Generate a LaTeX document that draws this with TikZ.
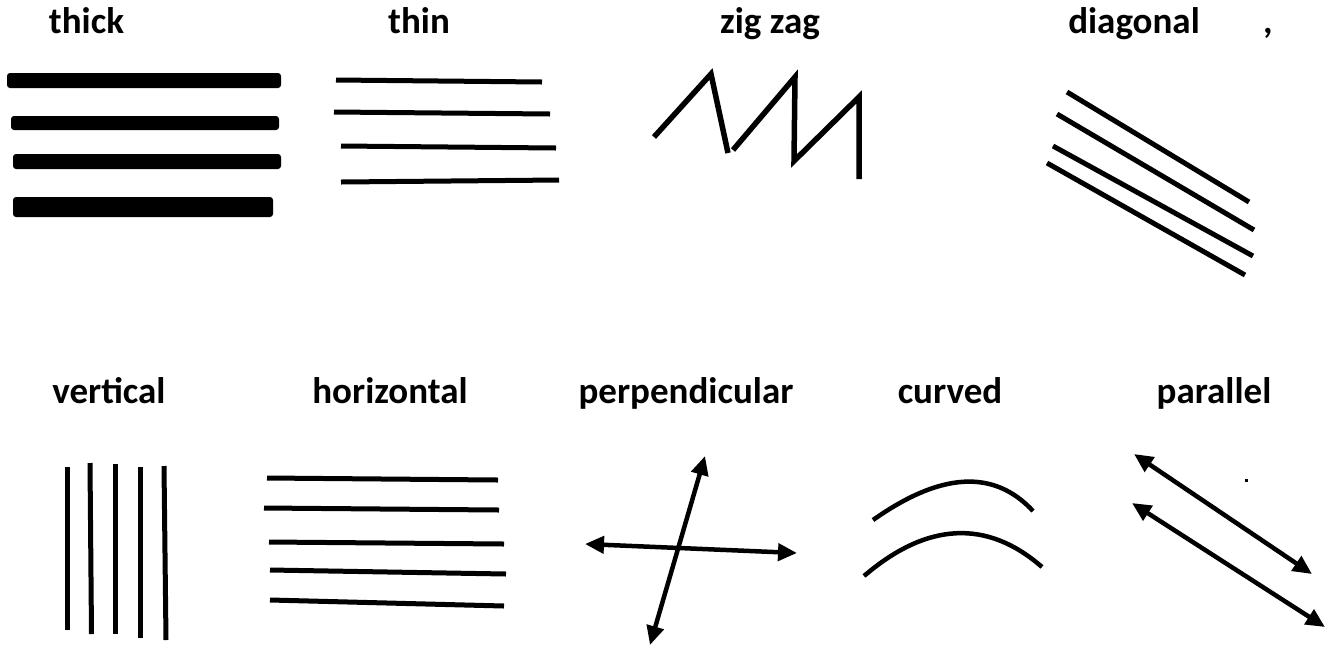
\documentclass[tikz,border=0pt]{standalone}
\usepackage{fontspec}
\setmainfont{Carlito}
\usetikzlibrary{arrows.meta}
\tikzset{
  lbl/.style={anchor=base, inner sep=0pt, font=\fontsize{37}{44}\selectfont\bfseries},
  bar/.style={fill=black, rounded corners=3pt},
  ln/.style={line width=5pt, line cap=butt},
  zz/.style={line width=5.5pt, line join=miter, miter limit=20},
  arc/.style={line width=4.5pt},
  dbl/.style={line width=4.5pt, {Triangle[length=19pt,width=17pt]}-{Triangle[length=19pt,width=17pt]}}
}
\begin{document}
\begin{tikzpicture}[x=1pt,y=-1pt]
\useasboundingbox (0,0) rectangle (1333,657);
% labels row 1
\node[lbl] (lthick) at (86.5,33) {thick};
\node[lbl] (lthin) at (419,33) {thin};
\node[lbl] (lzig) at (770,33) {zig zag};
\node[lbl] (ldiag) at (1134,33) {diagonal};
\node[lbl] (lcomma) at (1268,33) {,};
% labels row 2
\node[lbl] (lvert) at (109,403) {vertical};
\node[lbl] (lhor) at (390,403) {horizontal};
\node[lbl] (lperp) at (686,403) {perpendicular};
\node[lbl] (lcurv) at (950,403) {curved};
\node[lbl] (lpar) at (1214,403) {parallel};
% thick
\fill[bar] (7,73) rectangle (281,88);
\fill[bar] (11,116) rectangle (279,130);
\fill[bar] (13,154) rectangle (281,169);
\fill[bar] (13,197) rectangle (273,217);
% thin
\draw[ln] (336,80) -- (542,82);
\draw[ln] (334,112) -- (550,114);
\draw[ln] (341,146) -- (556,148);
\draw[ln] (341,182) -- (559,180);
% zig zag
\draw[zz] (654,137) -- (711,74) -- (728,153);
\draw[zz] (733,150) -- (795,77) -- (794,161) -- (859,97) -- (859,179);
% diagonal
\draw[ln] (1067,92) -- (1249,202);
\draw[ln] (1057,114) -- (1254,230);
\draw[ln] (1053,146) -- (1253,256);
\draw[ln] (1047,163) -- (1245,275);
% vertical
\draw[ln] (67,467) -- (67,630);
\draw[ln] (90,463) -- (91.5,634);
\draw[ln] (115.5,464) -- (115.5,634);
\draw[ln] (140,467) -- (140,638);
\draw[ln] (164,466) -- (166,640);
% horizontal
\draw[ln] (267,478) -- (498,480);
\draw[ln] (264,508) -- (499,510);
\draw[ln] (269,542) -- (504,544);
\draw[ln] (270,570) -- (506,574);
\draw[ln] (270,600) -- (504,606);
% perpendicular
\coordinate (ph1) at (585,544);
\coordinate (ph2) at (797,553);
\coordinate (pv1) at (705,456);
\coordinate (pv2) at (650,645);
\draw[dbl] (ph1) -- (ph2);
\draw[dbl] (pv1) -- (pv2);
% curved
\draw[arc] (873,520) .. controls (941,472) and (994,469) .. (1033,511);
\draw[arc] (864,576) .. controls (927,522) and (987,519) .. (1042,567);
% parallel
\coordinate (pa1) at (1134,454);
\coordinate (pa2) at (1312,574);
\coordinate (pb1) at (1132,503);
\coordinate (pb2) at (1325,627);
\draw[dbl] (pa1) -- (pa2);
\draw[dbl] (pb1) -- (pb2);
\fill (1244.5,478.5) rectangle (1247.5,481.5);
\end{tikzpicture}
\end{document}
